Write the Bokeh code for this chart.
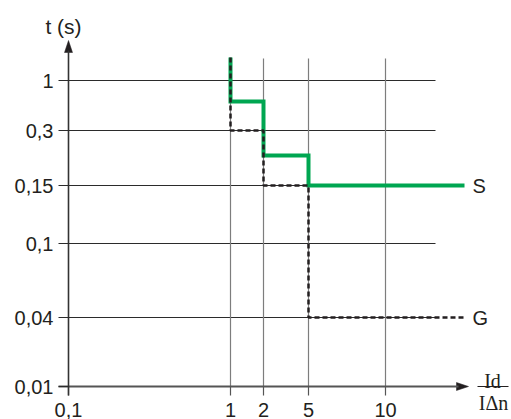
import numpy as np
from bokeh.plotting import figure
from bokeh.models import Range1d, LinearAxis, FixedTicker, Label
from bokeh.embed import file_html
from bokeh.resources import INLINE

# ---------------- data ----------------
x_ticks = [0.1, 1, 2, 5, 10]
x_tick_labels = ["0,1", "1", "2", "5", "10"]
y_ticks = [0.01, 0.04, 0.1, 0.15, 0.3, 1]
y_tick_labels = ["0,01", "0,04", "0,1", "0,15", "0,3", "1"]

# tripping curves: Id/IΔn multiple vs. time (s)
s_multiple = [1, 1, 2, 2, 5, 5, 20]
s_time = [2, 0.5, 0.5, 0.2, 0.2, 0.15, 0.15]
g_multiple = [1, 1, 2, 2, 5, 5, 20]
g_time = [2, 0.3, 0.3, 0.15, 0.15, 0.04, 0.04]

# ---------------- layout (schematic, non-uniform axis scale) ----------------
W, H, M = 511, 419, 0
X_SCALE_VALS = [0.1, 1, 2, 5, 10, 20]
X_SCALE_PX = [68, 230, 263, 308, 385, 464]
Y_SCALE_VALS = [0.01, 0.04, 0.1, 0.15, 0.2, 0.3, 0.5, 1, 2]
Y_SCALE_PX = [386, 317, 243, 185, 155, 130, 101, 80, 57]
GRID_RIGHT_PX = 435
GRID_TOP_PX = 58
Y_ARROW_TIP_PY = 40
X_ARROW_TIP_PX = 468
HEAD_LEN, HEAD_HALF = 12, 4

INK = "#231f20"
GREEN = "#00a651"
FONT = "Liberation Sans"
SERIF = "Liberation Serif"


def ux(px):
    return np.asarray(px, dtype=float) - M


def vy(py):
    return (H + M) - np.asarray(py, dtype=float)


def sx(vals):
    return ux(np.interp(np.log10(vals), np.log10(X_SCALE_VALS), X_SCALE_PX))


def sy(vals):
    return vy(np.interp(np.log10(vals), np.log10(Y_SCALE_VALS), Y_SCALE_PX))


p = figure(width=W, height=H, x_range=Range1d(0, W), y_range=Range1d(0, H),
           output_backend="svg", toolbar_location=None,
           x_axis_type=None, y_axis_type=None, min_border=0,
           outline_line_color=None)
p.background_fill_color = "white"
p.border_fill_color = "white"

x0 = float(sx(x_ticks[0]))
y0 = float(sy(y_ticks[0]))

# grid lines
hy = sy(y_ticks[1:])
p.segment(x0=[x0] * len(hy), x1=[float(ux(GRID_RIGHT_PX))] * len(hy), y0=hy, y1=hy,
          line_color="#2b2b2b", line_width=1)
vx = sx(x_ticks[1:])
p.segment(x0=vx, x1=vx, y0=[y0] * len(vx), y1=[float(vy(GRID_TOP_PX))] * len(vx),
          line_color="#7d7d7d", line_width=1.2)

# axes
yt = [round(float(v), 3) for v in sy(y_ticks)]
yaxis = LinearAxis(fixed_location=x0,
                   ticker=FixedTicker(ticks=yt, minor_ticks=[]),
                   major_label_overrides={k: l for k, l in zip(yt, y_tick_labels)},
                   bounds=(float(vy(395)), float(vy(Y_ARROW_TIP_PY + HEAD_LEN - 2))),
                   major_tick_out=10, major_tick_in=0, minor_tick_out=0, minor_tick_in=0,
                   major_label_standoff=5,
                   axis_line_color="#333333", axis_line_width=1.6,
                   major_tick_line_color="#2b2b2b", major_tick_line_width=1,
                   major_label_text_font=FONT, major_label_text_font_size="20px",
                   major_label_text_color=INK)
p.add_layout(yaxis, "left")

xt = [round(float(v), 3) for v in sx(x_ticks)]
xaxis = LinearAxis(fixed_location=y0,
                   ticker=FixedTicker(ticks=xt, minor_ticks=[]),
                   major_label_overrides={k: l for k, l in zip(xt, x_tick_labels)},
                   bounds=(float(ux(58)), float(ux(X_ARROW_TIP_PX - HEAD_LEN + 2))),
                   major_tick_out=9, major_tick_in=0, minor_tick_out=0, minor_tick_in=0,
                   major_label_standoff=7,
                   axis_line_color="#555555", axis_line_width=1.8,
                   major_tick_line_color="#555555", major_tick_line_width=1.2,
                   major_label_text_font=FONT, major_label_text_font_size="20px",
                   major_label_text_color=INK)
p.add_layout(xaxis, "below")

# arrow heads
tipy = float(vy(Y_ARROW_TIP_PY))
tipx = float(ux(X_ARROW_TIP_PX))
p.patches(xs=[[x0, x0 - HEAD_HALF, x0 + HEAD_HALF],
              [tipx, tipx - HEAD_LEN, tipx - HEAD_LEN]],
          ys=[[tipy, tipy - HEAD_LEN, tipy - HEAD_LEN],
              [y0, y0 + HEAD_HALF, y0 - HEAD_HALF]],
          fill_color=INK, line_color=INK, line_width=0.5)

# curves
p.line(sx(s_multiple), sy(s_time), line_color=GREEN, line_width=4, line_join="miter")
p.line(sx(g_multiple), sy(g_time), line_color=INK, line_width=2.5, line_dash="5 3")

# labels
p.add_layout(Label(x=float(sx(s_multiple[-1])), y=float(sy(s_time[-1])), x_offset=8,
                   text="S", text_baseline="middle", text_align="left",
                   text_font=FONT, text_font_size="20px", text_color=INK))
p.add_layout(Label(x=float(sx(g_multiple[-1])), y=float(sy(g_time[-1])), x_offset=8,
                   text="G", text_baseline="middle", text_align="left",
                   text_font=FONT, text_font_size="20px", text_color=INK))
p.add_layout(Label(x=float(ux(63)), y=float(vy(26)), text="t (s)",
                   text_align="center", text_baseline="alphabetic",
                   text_font=FONT, text_font_size="21px", text_color=INK))
p.add_layout(Label(x=float(ux(492)), y=float(vy(380)), text="Id",
                   text_align="center", text_baseline="alphabetic",
                   text_font=SERIF, text_font_size="20px", text_color=INK))
p.add_layout(Label(x=float(ux(493)), y=float(vy(402)), text="I\u0394n",
                   text_align="center", text_baseline="alphabetic",
                   text_font=SERIF, text_font_size="20px", text_color=INK))
p.segment(x0=[float(ux(477))], x1=[float(ux(508))], y0=[y0], y1=[y0],
          line_color=INK, line_width=1)

open("out.html", "w").write(file_html(p, INLINE))
